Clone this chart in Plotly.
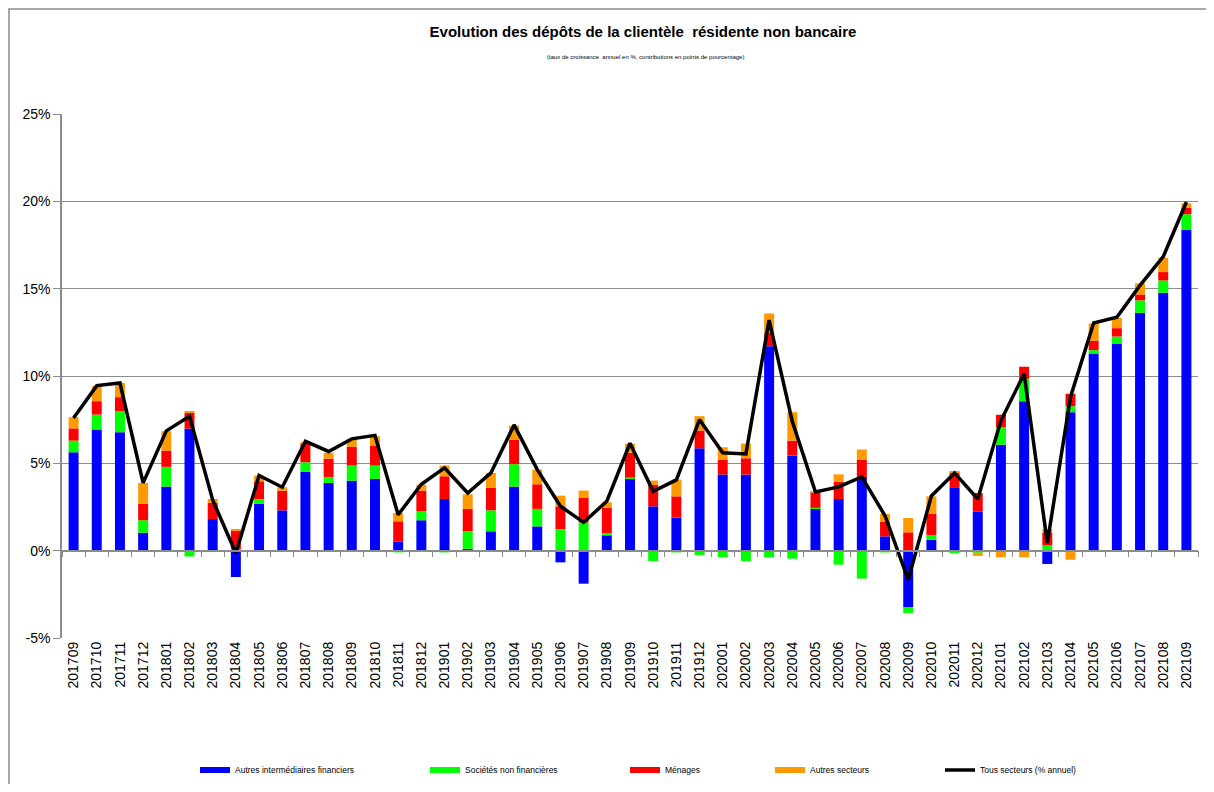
import plotly.graph_objects as go

months = ["201709", "201710", "201711", "201712", "201801", "201802", "201803", "201804",
          "201805", "201806", "201807", "201808", "201809", "201810", "201811", "201812",
          "201901", "201902", "201903", "201904", "201905", "201906", "201907", "201908",
          "201909", "201910", "201911", "201912", "202001", "202002", "202003", "202004",
          "202005", "202006", "202007", "202008", "202009", "202010", "202011", "202012",
          "202101", "202102", "202103", "202104", "202105", "202106", "202107", "202108",
          "202109"]

autres_intermediaires = [5.63, 6.93, 6.78, 1.03, 3.67, 6.99, 1.81, -1.51,
                         2.68, 2.31, 4.51, 3.88, 4.01, 4.11, 0.53, 1.74,
                         2.96, 0.11, 1.11, 3.67, 1.39, -0.67, -1.89, 0.88,
                         4.11, 2.54, 1.89, 5.86, 4.36, 4.36, 11.71, 5.44,
                         2.39, 2.96, 4.22, 0.82, -3.23, 0.63, 3.59, 2.25,
                         6.07, 8.56, -0.76, 7.93, 11.29, 11.83, 13.62, 14.77,
                         18.36]

societes_non_fin = [0.67, 0.86, 1.20, 0.71, 1.13, -0.33, -0.08, 0.10,
                    0.28, -0.06, 0.55, 0.34, 0.86, 0.76, -0.10, 0.51,
                    -0.10, 1.00, 1.20, 1.28, 1.00, 1.24, 1.62, 0.13,
                    0.09, -0.60, -0.10, -0.25, -0.38, -0.60, -0.38, -0.46,
                    0.07, -0.80, -1.60, -0.10, -0.34, 0.27, -0.15, -0.12,
                    1.00, 1.28, 0.29, 0.34, 0.19, 0.43, 0.71, 0.70,
                    0.90]

menages = [0.70, 0.77, 0.81, 0.94, 0.93, 0.90, 0.92, 1.05,
           1.01, 1.13, 1.05, 1.05, 1.07, 1.15, 1.15, 1.19,
           1.30, 1.28, 1.28, 1.41, 1.41, 1.30, 1.40, 1.44,
           1.40, 1.24, 1.22, 1.02, 0.85, 0.93, 0.76, 0.86,
           0.88, 0.98, 0.99, 0.84, 1.05, 1.20, 0.90, 1.05,
           0.71, 0.69, 0.76, 0.71, 0.55, 0.48, 0.34, 0.48,
           0.38]

autres_secteurs = [0.64, 0.86, 0.82, 1.20, 1.11, 0.09, 0.23, 0.08,
                   0.33, 0.19, 0.10, 0.33, 0.42, 0.53, 0.48, 0.34,
                   0.61, 0.84, 0.86, 0.80, 0.84, 0.61, 0.42, 0.32,
                   0.53, 0.23, 0.96, 0.82, 0.71, 0.84, 1.11, 1.63,
                   0.04, 0.43, 0.58, 0.44, 0.82, 1.01, 0.04, -0.18,
                   -0.38, -0.38, 0.19, -0.52, 0.97, 0.58, 0.63, 0.82,
                   0.25]

tous_secteurs = [7.60, 9.45, 9.60, 3.88, 6.86, 7.70, 2.90, -0.15,
                 4.30, 3.63, 6.26, 5.68, 6.40, 6.60, 2.06, 3.80,
                 4.74, 3.30, 4.45, 7.20, 4.64, 2.54, 1.62, 2.83,
                 6.15, 3.40, 4.05, 7.50, 5.60, 5.54, 13.20, 7.40,
                 3.36, 3.65, 4.22, 2.00, -1.66, 3.13, 4.45, 2.96,
                 7.45, 10.13, 0.44, 8.80, 13.03, 13.36, 15.19, 16.83,
                 19.96]

y_ticks = [-5, 0, 5, 10, 15, 20, 25]
y_labels = ["-5%", "0%", "5%", "10%", "15%", "20%", "25%"]

series = [
    ("Autres intermédiaires financiers", autres_intermediaires, "#0000FF"),
    ("Sociétés non financières", societes_non_fin, "#00FF00"),
    ("Ménages", menages, "#FF0000"),
    ("Autres secteurs", autres_secteurs, "#FF9900"),
]

FONT = "Liberation Sans, Arial, sans-serif"
GRID = "#8C8C8C"

# figure placed in page with the default 8px body margin
W, H = 1198, 776
ML, MT, MR, MB = 54, 106, 8, 146
PW, PH = W - ML - MR, H - MT - MB  # 1136 x 524


def py(win_y):
    return (MT + PH + 8 - win_y) / PH


def px(win_x):
    return (win_x - 8 - ML) / PW


legend_starts = [200, 430, 630, 775, 945]
legend_ids = ["legend", "legend2", "legend3", "legend4", "legend5"]

fig = go.Figure()
for name, vals, col in series:
    fig.add_trace(go.Bar(x=months, y=vals, name=name, marker=dict(color=col, line=dict(width=0)),
                         showlegend=False))
for i, (name, vals, col) in enumerate(series):
    fig.add_trace(go.Scatter(x=[None], y=[None], mode="lines", name=name,
                             line=dict(color=col, width=6), showlegend=True,
                             legend=legend_ids[i]))
fig.add_trace(go.Scatter(x=months, y=tous_secteurs, mode="lines", name="Tous secteurs (% annuel)",
                         line=dict(color="#000000", width=3.5), xaxis="x2",
                         legend=legend_ids[4]))

legend_layouts = {}
for lid, s in zip(legend_ids, legend_starts):
    legend_layouts[lid] = dict(orientation="h", xref="container", yref="container",
                               x=(s - 5 - 8) / W, xanchor="left",
                               y=1 - (770 - 8) / H, yanchor="middle",
                               font=dict(size=8.5, family=FONT), bgcolor="rgba(0,0,0,0)")

fig.update_layout(
    width=W, height=H,
    margin=dict(l=ML, r=MR, t=MT, b=MB),
    paper_bgcolor="white", plot_bgcolor="white",
    barmode="relative", bargap=0.57,
    font=dict(family=FONT, color="#000000"),
    title=dict(text="<b>Evolution des dépôts de la clientèle  résidente non bancaire</b>",
               x=(643 - 8) / W, xanchor="center", y=1 - (32 - 8) / H, yanchor="middle",
               font=dict(family=FONT, size=15)),
    xaxis=dict(type="category", showgrid=False, showline=False, ticks="",
               tickangle=-90, tickfont=dict(size=14, family=FONT), zeroline=False,
               range=[-0.5, len(months) - 0.5]),
    xaxis2=dict(type="category", overlaying="x", matches="x", anchor="free", position=1 / 6,
                showline=True, linecolor=GRID, linewidth=1.5, ticks="outside", ticklen=6,
                tickcolor=GRID, tickson="boundaries", showticklabels=False, showgrid=False),
    yaxis=dict(range=[-5, 25], tickmode="array", tickvals=y_ticks, ticktext=y_labels,
               showgrid=True, gridcolor=GRID, gridwidth=1.3, zeroline=False, showline=True,
               linecolor=GRID, linewidth=1.5, ticks="outside", ticklen=7, tickcolor=GRID,
               tickfont=dict(size=14, family=FONT)),
    annotations=[dict(text="(taux de croissance  annuel en %, contributions en points de pourcentage)",
                      xref="paper", yref="paper", x=px(645), y=py(57),
                      xanchor="center", yanchor="middle", showarrow=False,
                      font=dict(size=6, family=FONT))],
    shapes=[dict(type="rect", xref="paper", yref="paper",
                 x0=px(9), x1=px(1240), y0=py(830), y1=py(9),
                 line=dict(color="#8C8C8C", width=1.5), layer="below")],
    **legend_layouts,
)

fig.write_html("out.html")
